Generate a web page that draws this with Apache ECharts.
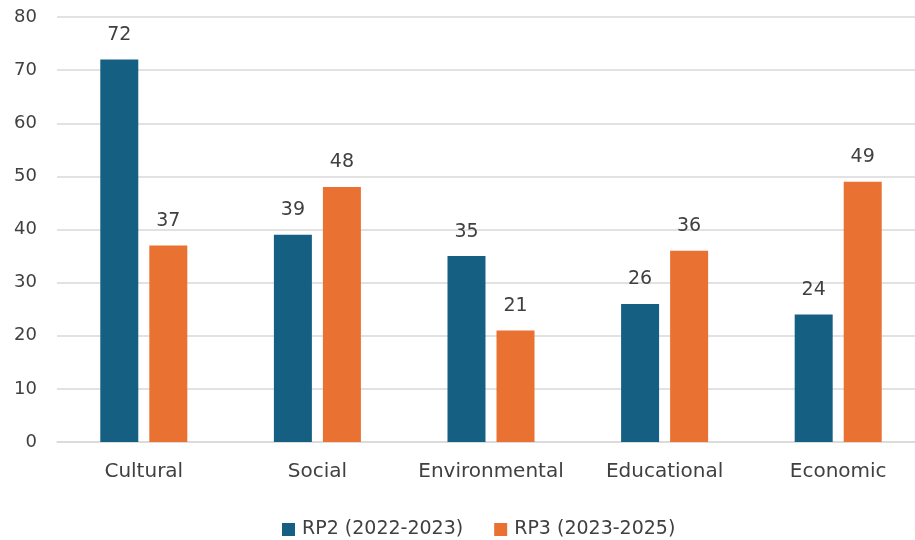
<!DOCTYPE html>
<html>
<head>
<meta charset="utf-8">
<script src="https://cdn.jsdelivr.net/npm/echarts@6/dist/echarts.min.js"></script>
<style>
  html, body { margin: 0; padding: 0; background: #fff; overflow: hidden; }
  #chart { width: 930px; height: 540px; }
</style>
</head>
<body>
<div id="chart"></div>
<script>
// Impact categories and counts per reporting period
const categories = ['Cultural', 'Social', 'Environmental', 'Educational', 'Economic'];
const rp2Values = [72, 39, 35, 26, 24];
const rp3Values = [37, 48, 21, 36, 49];
const seriesNames = ['RP2 (2022-2023)', 'RP3 (2023-2025)'];
const yTicks = { min: 0, max: 80, interval: 10 };

const textFont = 'DejaVu Sans';
const textColor = '#404040';

const chart = echarts.init(document.getElementById('chart'));

const barLabel = {
  show: true,
  position: 'top',
  distance: 15,
  fontFamily: textFont,
  fontSize: 19,
  color: textColor
};

chart.setOption({
  animation: false,
  backgroundColor: '#ffffff',
  // the plot runs slightly past the right edge of the visible page
  grid: { left: 57, top: 17, width: 868, height: 425, containLabel: false },
  legend: {
    left: 282,
    top: 520,
    padding: 0,
    itemWidth: 13,
    itemHeight: 13,
    itemGap: 31,
    icon: 'rect',
    textStyle: { fontFamily: textFont, fontSize: 19, color: textColor, padding: [0, 0, 0, 2] },
    data: seriesNames
  },
  xAxis: {
    type: 'category',
    data: categories,
    axisLine: { show: true, lineStyle: { color: '#d9d9d9', width: 1.5 } },
    axisTick: { show: false },
    axisLabel: { interval: 0, fontFamily: textFont, fontSize: 20, color: textColor, margin: 20 }
  },
  yAxis: {
    type: 'value',
    min: yTicks.min,
    max: yTicks.max,
    interval: yTicks.interval,
    axisLine: { show: false },
    axisTick: { show: false },
    splitLine: { lineStyle: { color: '#d9d9d9', width: 1.5 } },
    axisLabel: { fontFamily: textFont, fontSize: 18, color: textColor, margin: 20 }
  },
  series: [
    {
      name: seriesNames[0],
      type: 'bar',
      data: rp2Values,
      barWidth: 38,
      barGap: '29%',
      itemStyle: { color: '#156082' },
      label: barLabel
    },
    {
      name: seriesNames[1],
      type: 'bar',
      data: rp3Values,
      barWidth: 38,
      barGap: '29%',
      itemStyle: { color: '#E97132' },
      label: barLabel
    }
  ]
});
</script>
</body>
</html>
